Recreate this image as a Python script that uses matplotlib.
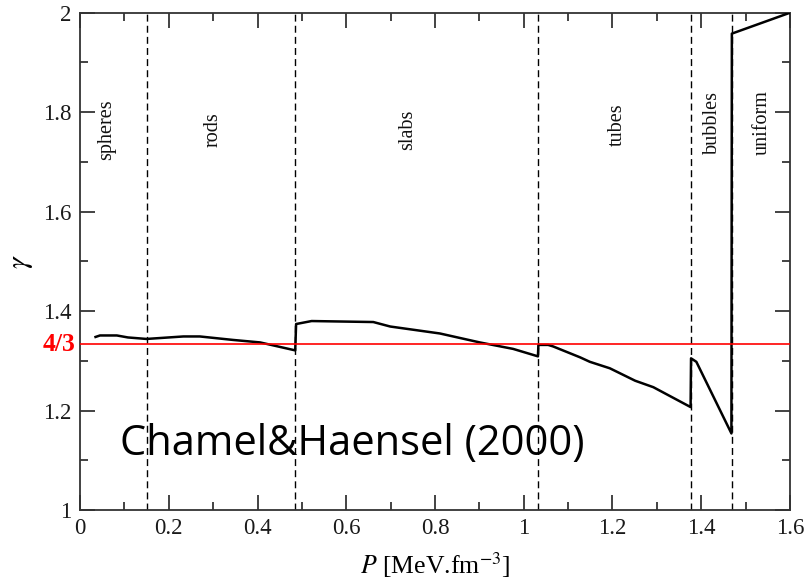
import matplotlib
matplotlib.use("Agg")
import matplotlib.pyplot as plt
from matplotlib.ticker import MultipleLocator
import matplotlib.transforms as mtransforms

# Data: adiabatic index gamma vs pressure P
P = [0.035, 0.045, 0.083, 0.108, 0.150, 0.233, 0.270, 0.345, 0.406, 0.485,
     0.487, 0.522, 0.661, 0.699, 0.811, 0.901, 0.976, 1.032,
     1.033, 1.055, 1.066, 1.127, 1.149, 1.194, 1.251, 1.292, 1.376,
     1.377, 1.389, 1.468,
     1.469, 1.600]
gamma = [1.348, 1.351, 1.351, 1.347, 1.344, 1.349, 1.349, 1.342, 1.337, 1.321,
         1.374, 1.380, 1.378, 1.369, 1.355, 1.337, 1.324, 1.309,
         1.332, 1.332, 1.329, 1.307, 1.298, 1.285, 1.260, 1.247, 1.207,
         1.305, 1.298, 1.154,
         1.958, 2.000]

# Phase transitions and names
transitions = [0.151, 0.485, 1.032, 1.377, 1.469]
phases = ["spheres", "rods", "slabs", "tubes", "bubbles", "uniform"]
phase_x = [0.061, 0.300, 0.739, 1.210, 1.426, 1.537]
phase_y = [1.765, 1.765, 1.765, 1.775, 1.78, 1.78]

gamma_ref = 4.0 / 3.0

xticks = [0, 0.2, 0.4, 0.6, 0.8, 1.0, 1.2, 1.4, 1.6]
xticklabels = ["0", "0.2", "0.4", "0.6", "0.8", "1", "1.2", "1.4", "1.6"]
yticks = [1.0, 1.2, 1.4, 1.6, 1.8, 2.0]
yticklabels = ["1", "1.2", "1.4", "1.6", "1.8", "2"]

plt.rcParams['mathtext.fontset'] = 'stix'
serif = 'Liberation Serif'

fig = plt.figure(figsize=(8.09, 5.84), dpi=100)
ax = fig.add_axes([0.0989, 0.1267, 0.8776, 0.8515])

ax.plot(P, gamma, color='black', lw=1.8, zorder=3, clip_on=True)
ax.axhline(gamma_ref, color='red', lw=1.2, zorder=4)
for t in transitions:
    ax.axvline(t, color='black', lw=1.0, ls=(0, (5, 3)), zorder=2)

for name, x, y in zip(phases, phase_x, phase_y):
    ax.text(x, y, name, rotation=90, ha='center', va='center',
            family=serif, fontsize=14.5, color='#111111')

ax.set_xlim(0, 1.6)
ax.set_ylim(1, 2)
ax.set_xticks(xticks)
ax.set_xticklabels(xticklabels)
ax.set_yticks(yticks)
ax.set_yticklabels(yticklabels)
ax.xaxis.set_minor_locator(MultipleLocator(0.1))
ax.yaxis.set_minor_locator(MultipleLocator(0.1))
ax.tick_params(which='both', direction='in', top=True, right=True, width=1.2,
               color='#222222')
ax.tick_params(which='major', length=11, pad=6, labelsize=16.5)
ax.tick_params(which='minor', length=6)
for lbl in ax.get_xticklabels() + ax.get_yticklabels():
    lbl.set_family(serif)
    lbl.set_color('#1a1a1a')
for s in ax.spines.values():
    s.set_linewidth(1.3)
    s.set_color('#333333')

trans = mtransforms.blended_transform_factory(ax.transAxes, ax.transData)
ax.text(-0.006, gamma_ref, "4/3", transform=trans, ha='right', va='center',
        color='red', fontweight='bold', family=serif, fontsize=18.5)

ax.set_ylabel(r'$\gamma$', fontsize=21, labelpad=6)
ax.set_xlabel(r'$P$ [MeV.fm$^{-3}$]', fontsize=18.5, family=serif, labelpad=8)

ax.text(0.09, 1.11, "Chamel&Haensel (2000)", family='Open Sans',
        fontsize=30, color='black', ha='left', va='baseline', zorder=5)

fig.savefig("out.png", dpi=100)
